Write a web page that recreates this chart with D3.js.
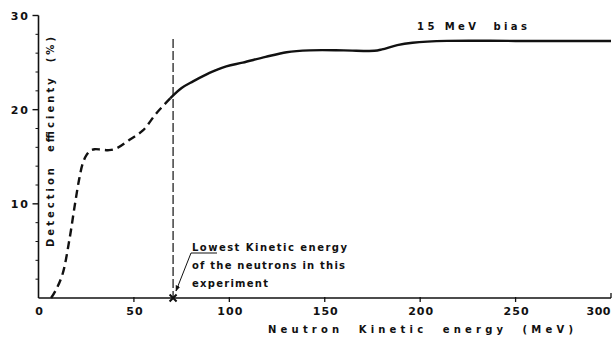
<!DOCTYPE html>
<html>
<head>
<meta charset="utf-8">
<script src="https://cdn.jsdelivr.net/npm/d3@7"></script>
<style>
  body { margin: 0; background: #fff; }
  text { font-family: "DejaVu Sans", sans-serif; font-weight: bold; fill: #111; white-space: pre; }
</style>
</head>
<body>
<svg width="614" height="340"></svg>
<script>
// values
var dashedEnergy = [6.6, 9.5, 12.7, 16.2, 18.9, 21.2, 23.2, 25.2, 27.2, 29.5, 33, 37, 41, 47.7, 54.7, 61.7, 69];
var dashedEff    = [0, 1.0, 2.6, 6.2, 9.7, 12.5, 14.3, 15.2, 15.65, 15.8, 15.75, 15.7, 15.9, 16.8, 17.8, 19.6, 21.2];
var solidEnergy  = [69, 75, 81, 89.6, 98.4, 107, 119, 130, 142, 160, 176, 180, 188, 196, 214, 250, 300];
var solidEff     = [21.2, 22.3, 23.0, 23.9, 24.6, 25.0, 25.6, 26.1, 26.3, 26.3, 26.25, 26.4, 26.85, 27.1, 27.3, 27.3, 27.3];
var xTicks = [0, 50, 100, 150, 200, 250, 300];
var yTicks = [10, 20, 30];
var yMinor = d3.range(2, 30, 2);
var cutEnergy = 70, cutTop = 27.5;
var noteLines = ["Lowest Kinetic energy", "of the neutrons in this", "experiment"];

var svg = d3.select("svg");
var x = d3.scaleLinear().domain([0, 300]).range([38.5, 611]);
var y = d3.scaleLinear().domain([0, 30]).range([298, 15.5]);

// axes
var axisG = svg.append("g");
axisG.append("line")
    .attr("x1", x(0)).attr("x2", x(300)).attr("y1", y(0)).attr("y2", y(0))
    .attr("stroke", "#111").attr("stroke-width", 1.6);
axisG.append("line")
    .attr("x1", x(0)).attr("x2", x(0)).attr("y1", y(0)).attr("y2", y(30))
    .attr("stroke", "#111").attr("stroke-width", 1.6);

// x ticks
axisG.selectAll(".xt").data(xTicks.slice(1)).join("line")
    .attr("x1", d => x(d)).attr("x2", d => x(d))
    .attr("y1", d => d == 300 ? y(0) - 5 : y(0) - 1).attr("y2", d => d == 300 ? y(0) : y(0) + 4)
    .attr("stroke", "#111").attr("stroke-width", 1.3);
axisG.selectAll(".xl").data(xTicks).join("text")
    .attr("x", d => d == 300 ? x(d) : x(d) + 1).attr("y", 315)
    .attr("text-anchor", d => d == 300 ? "end" : "middle")
    .attr("font-size", 11).attr("letter-spacing", d => d == 300 ? 0.5 : 1)
    .text(d => d);

// y ticks
axisG.selectAll(".ym").data(yMinor.filter(d => d % 10 != 0)).join("line")
    .attr("x1", x(0) - 3).attr("x2", x(0))
    .attr("y1", d => y(d)).attr("y2", d => y(d))
    .attr("stroke", "#111").attr("stroke-width", 1);
axisG.selectAll(".yt").data(yTicks).join("line")
    .attr("x1", x(0) - 6).attr("x2", x(0))
    .attr("y1", d => y(d)).attr("y2", d => y(d))
    .attr("stroke", "#111").attr("stroke-width", 1.4);
axisG.selectAll(".yl").data(yTicks).join("text")
    .attr("x", 30).attr("y", d => y(d) + 4)
    .attr("text-anchor", "end")
    .attr("font-size", 11).attr("letter-spacing", 2)
    .text(d => d);

// axis titles
svg.append("text")
    .attr("x", 268).attr("y", 333)
    .attr("font-size", 10)
    .attr("textLength", 305).attr("lengthAdjust", "spacing")
    .text("Neutron  Kinetic  energy  (MeV)");
svg.append("text")
    .attr("transform", "translate(54,247) rotate(-90)")
    .attr("font-size", 10)
    .attr("textLength", 210).attr("lengthAdjust", "spacing")
    .text("Detection  efficienty  (%)");

// curve
var line = d3.line().x(d => x(d[0])).y(d => y(d[1])).curve(d3.curveCatmullRom.alpha(0.5));
svg.append("path")
    .datum(d3.zip(dashedEnergy, dashedEff))
    .attr("d", line)
    .attr("fill", "none").attr("stroke", "#111").attr("stroke-width", 2.4)
    .attr("stroke-dasharray", "8,5");
svg.append("path")
    .datum(d3.zip(solidEnergy, solidEff))
    .attr("d", line)
    .attr("fill", "none").attr("stroke", "#111").attr("stroke-width", 2.4);

// vertical cut line
svg.append("line")
    .attr("x1", x(cutEnergy) + 1).attr("x2", x(cutEnergy) + 1)
    .attr("y1", y(cutTop)).attr("y2", y(0))
    .attr("stroke", "#111").attr("stroke-width", 1.2)
    .attr("stroke-dasharray", "9,3");

// cross marker
var cx = x(cutEnergy) + 1, cy = y(0);
svg.append("path")
    .attr("d", `M${cx - 3.5},${cy - 3.5}L${cx + 3.5},${cy + 3.5}M${cx - 3.5},${cy + 3.5}L${cx + 3.5},${cy - 3.5}`)
    .attr("stroke", "#111").attr("stroke-width", 2);

// annotation
svg.append("defs").append("marker")
    .attr("id", "arr").attr("viewBox", "0 0 10 10")
    .attr("refX", 9).attr("refY", 5)
    .attr("markerWidth", 6).attr("markerHeight", 6)
    .attr("orient", "auto")
  .append("path").attr("d", "M0,1L10,5L0,9Z").attr("fill", "#111");
svg.append("path")
    .attr("d", "M217,253L191,253L176,291")
    .attr("fill", "none").attr("stroke", "#111").attr("stroke-width", 1)
    .attr("marker-end", "url(#arr)");
var noteLen = [155, 153, 76];
svg.selectAll(".note").data(noteLines).join("text")
    .attr("x", 192).attr("y", (d, i) => 250.5 + i * 18.3)
    .attr("font-size", 10)
    .attr("textLength", (d, i) => noteLen[i]).attr("lengthAdjust", "spacing")
    .text(d => d);

svg.append("text")
    .attr("x", 417).attr("y", 30)
    .attr("font-size", 10)
    .attr("textLength", 110).attr("lengthAdjust", "spacing")
    .text("15 MeV  bias");
</script>
</body>
</html>
